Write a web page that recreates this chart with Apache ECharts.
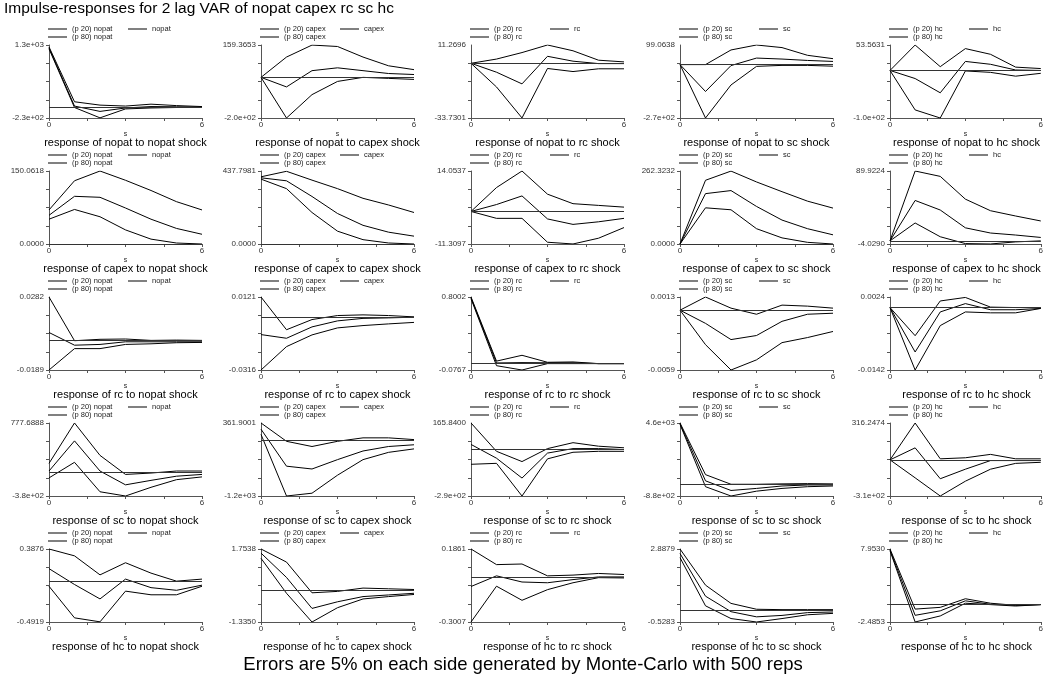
<!DOCTYPE html>
<html>
<head>
<meta charset="utf-8">
<script src="https://cdn.jsdelivr.net/npm/echarts@6/dist/echarts.min.js"></script>
<style>
  html, body { margin: 0; padding: 0; background: #fff; }
  #chart { width: 1046px; height: 683px; }
</style>
</head>
<body>
<div id="chart"></div>
<script>
// steps of the impulse response
const steps = [0, 1, 2, 3, 4, 5, 6];
const vars = ['nopat', 'capex', 'rc', 'sc', 'hc'];

// y axis labels (top / bottom) for each response row, one per shock column
const topLabels = [
    ['1.3e+03', '159.3653', '11.2696', '99.0638', '53.5631'],
    ['150.0618', '437.7981', '14.0537', '262.3232', '89.9224'],
    ['0.0282', '0.0121', '0.8002', '0.0013', '0.0024'],
    ['777.6888', '361.9001', '165.8400', '4.6e+03', '316.2474'],
    ['0.3876', '1.7538', '0.1861', '2.8879', '7.9530']
];
const bottomLabels = [
    ['-2.3e+02', '-2.0e+02', '-33.7301', '-2.7e+02', '-1.0e+02'],
    ['0.0000', '0.0000', '-11.3097', '0.0000', '-4.0290'],
    ['-0.0189', '-0.0316', '-0.0767', '-0.0059', '-0.0142'],
    ['-3.8e+02', '-1.2e+03', '-2.9e+02', '-8.8e+02', '-3.1e+02'],
    ['-0.4919', '-1.3350', '-0.3007', '-0.5283', '-2.4853']
];

// response of nopat (shock nopat, capex, rc, sc, hc)
const p20Nopat = [
    [1220, -10, -227, -40, -20, -10, -10],
    [0, -200, -85, -20, 0, -5, -10],
    [0, -14.6, -33.7, -3.2, -5.1, -3.4, -3.4],
    [0, -270, -103, -9, -4, -4, -8],
    [0, -83, -100, -1, -4, -12, -6]
];
const estNopat = [
    [1240, 20, -92, -20, 10, 5, 0],
    [0, -47, 33, 47, 33, 19, 14],
    [0, -5.5, -12.7, 4.3, 1.3, -0.2, -0.2],
    [0, -136, -5, 33, 28, 21, 16],
    [0, -17, -47, 19, 13, 1, 0]
];
const p80Nopat = [
    [1260, 110, 40, 20, 60, 30, 10],
    [0, 100, 159, 152, 100, 57, 38],
    [0, 2.6, 6.6, 11.27, 7.7, 1.9, 0.85],
    [0, 0, 74, 99, 86, 47, 30],
    [0, 53.5, 8, 46, 34, 7, 4]
];

// response of capex
const p20Capex = [
    [51, 71, 56, 29, 10, 2, 0],
    [389, 332, 189, 77, 26, 6, 0],
    [0, -2.4, -2.4, -10.7, -11.3, -9.3, -5.6],
    [0, 130, 123, 55, 22, 6, 0],
    [0, 23, 5.3, -3.5, -4, -1.3, 0]
];
const estCapex = [
    [59, 98, 96, 74, 51, 32, 20],
    [397, 379, 285, 183, 112, 71, 47],
    [0, 2.4, 5.4, -2.6, -4.5, -3.6, -2.4],
    [0, 181, 192, 135, 86, 55, 33],
    [0, 52, 39.7, 16.8, 10.1, 7.5, 4.4]
];
const p80Capex = [
    [70, 130, 150, 131, 110, 87, 70],
    [403, 436, 383, 332, 274, 234, 189],
    [0, 8.3, 14.05, 6, 2.7, 2.1, 1.5],
    [0, 229, 262, 223, 188, 154, 129],
    [0, 89.9, 83, 53.7, 38.8, 32, 25.6]
];

// response of rc
const p20Rc = [
    [-0.0189, -0.0051, -0.0051, -0.0024, -0.002, -0.0013, -0.0011],
    [-0.0316, -0.0176, -0.0106, -0.0064, -0.005, -0.004, -0.0031],
    [0.78, -0.025, -0.0767, 0, 0, 0, 0],
    [0, -0.0034, -0.0059, -0.0049, -0.0032, -0.0027, -0.0021],
    [0, -0.0142, -0.0041, -0.001, -0.0012, -0.0012, -0.0002]
];
const estRc = [
    [0.0053, -0.0029, -0.0024, -0.0007, -0.0007, -0.0007, -0.0007],
    [-0.0104, -0.0126, -0.0058, -0.0022, -0.0007, -0.0004, 0],
    [0.79, 0.008, 0.012, 0.01, 0.01, 0, 0],
    [0, -0.0013, -0.0029, -0.0025, -0.0011, -0.0004, -0.0003],
    [0, -0.0101, -0.001, 0.0009, -0.0005, -0.0005, -0.0002]
];
const p80Rc = [
    [0.0282, 0, 0.0009, 0.0011, 0.0002, 0.0004, 0.0002],
    [0.0121, -0.0075, -0.0014, 0.001, 0.0014, 0.001, 0.0002],
    [0.80, 0.03, 0.1, 0.016, 0.02, 0, 0],
    [0, 0.0013, 0.0002, -0.0004, 0.0005, 0.0004, 0.0002],
    [0, -0.0064, 0.0015, 0.0023, 0.0001, 0, 0]
];

// response of sc
const p20Sc = [
    [-93, 154, -313, -380, -242, -121, -77],
    [118, -1200, -1140, -755, -422, -266, -192],
    [-92, -86, -290, -58, -17, -11, -11],
    [4500, -181, -880, -517, -310, -181, -129],
    [0, -154, -310, -183, -80, -30, -21]
];
const estSc = [
    [16, 494, 16, -203, -132, -66, -38],
    [229, -562, -622, -422, -237, -141, -104],
    [32, -54, -178, -22, 6, 6, 0],
    [4550, 258, -465, -310, -129, -52, -52],
    [0, 103, -162, -80, -6, -6, -6]
];
const p80Sc = [
    [137, 778, 264, -38, -16, 16, 16],
    [362, -30, -141, -30, 44, 44, 7],
    [166, -11, -75, 6, 43, 21, 11],
    [4600, 724, 0, 0, 30, 50, 30],
    [0, 316, 9, 18, 47, 9, 9]
];

// response of hc
const p20Hc = [
    [-0.061, -0.442, -0.49, -0.12, -0.164, -0.164, -0.061],
    [1.36, -0.12, -1.335, -0.73, -0.36, -0.26, -0.17],
    [-0.3007, -0.062, -0.156, -0.085, -0.039, -0.005, -0.007],
    [2.485, 0.229, -0.367, -0.528, -0.367, -0.19, -0.125],
    [7.7, -2.485, -1.62, 0.2, 0, -0.2, 0]
];
const estHc = [
    [0.151, -0.04, -0.214, 0.025, -0.078, -0.11, -0.048],
    [1.58, 0.55, -0.76, -0.48, -0.26, -0.19, -0.12],
    [-0.064, 0.007, -0.034, -0.039, -0.018, 0, 0],
    [2.678, 0.68, -0.045, -0.287, -0.22, -0.09, -0.06],
    [7.8, -1.53, -0.89, 0.54, 0.05, -0.05, 0]
];
const p80Hc = [
    [0.3876, 0.305, 0.076, 0.222, 0.097, 0, 0.025],
    [1.754, 1.2, -0.1, -0.04, 0.1, 0.07, 0.04],
    [0.186, 0.082, 0.086, 0.007, 0.012, 0.023, 0.016],
    [2.888, 1.196, 0.342, 0.068, 0.05, 0.05, 0.05],
    [7.953, -0.64, -0.39, 0.84, 0.2, -0.1, 0]
];

const p20 = [p20Nopat, p20Capex, p20Rc, p20Sc, p20Hc];
const est = [estNopat, estCapex, estRc, estSc, estHc];
const p80 = [p80Nopat, p80Capex, p80Rc, p80Sc, p80Hc];

// layout
const font = 'Liberation Sans, Arial, Helvetica, sans-serif';
const colLeft = [49, 261, 471, 680, 890];
const rowTop = [45, 171, 297, 423, 549];
const gridW = 153;
const gridH = 73;

const chart = echarts.init(document.getElementById('chart'), null, { renderer: 'canvas' });

const grids = [], xAxes = [], yAxes = [], series = [], legends = [];
const titles = [
    {
        text: 'Impulse-responses for 2 lag VAR of nopat capex rc sc hc',
        left: 4, top: 1, padding: 0,
        textStyle: { fontFamily: font, fontSize: 15.5, fontWeight: 'normal', color: '#000' }
    },
    {
        text: 'Errors are 5% on each side generated by Monte-Carlo with 500 reps',
        left: 'center', top: 655, padding: 0,
        textStyle: { fontFamily: font, fontSize: 18.5, fontWeight: 'normal', color: '#000' }
    }
];

const line = (name, idx, values) => ({
    type: 'line',
    name: name,
    xAxisIndex: idx,
    yAxisIndex: idx,
    data: steps.map((t, k) => [t, values[k]]),
    showSymbol: false,
    symbol: 'none',
    silent: true,
    animation: false,
    lineStyle: { color: '#000', width: 1 },
    itemStyle: { color: '#000' }
});

for (let r = 0; r < 5; r++) {
    for (let c = 0; c < 5; c++) {
        const idx = r * 5 + c;
        const yMax = parseFloat(topLabels[r][c]);
        const yMin = parseFloat(bottomLabels[r][c]);
        const step = (yMax - yMin) / 4;

        grids.push({ left: colLeft[c], top: rowTop[r], width: gridW, height: gridH });

        xAxes.push({
            type: 'value', gridIndex: idx, min: 0, max: 6, interval: 1.5,
            name: 's', nameLocation: 'middle', nameGap: 13,
            nameTextStyle: { fontFamily: font, fontSize: 7, color: '#222' },
            axisLine: { show: true, onZero: false, lineStyle: { color: '#555', width: 1 } },
            axisTick: { show: true, length: 3, lineStyle: { color: '#555' } },
            axisLabel: {
                fontFamily: font, fontSize: 8, color: '#333', margin: 3,
                formatter: v => (v === 0 || v === 6) ? String(v) : ''
            },
            splitLine: { show: false }
        });

        yAxes.push({
            type: 'value', gridIndex: idx, min: yMin, max: yMax,
            axisLine: { show: true, onZero: false, lineStyle: { color: '#555', width: 1 } },
            axisTick: {
                show: true, length: 3, lineStyle: { color: '#555' },
                customValues: [0, 1, 2, 3, 4].map(k => yMin + k * step)
            },
            axisLabel: {
                show: true, fontFamily: font, fontSize: 8, color: '#333', margin: 5,
                customValues: [yMin, yMax],
                formatter: v => Math.abs(v - yMax) < Math.abs(v - yMin) ? topLabels[r][c] : bottomLabels[r][c]
            },
            splitLine: { show: false }
        });

        const nLow = '(p 20) ' + vars[c];
        const nEst = vars[c];
        const nHigh = '(p 80) ' + vars[c];

        series.push(line(nLow, idx, p20[r][c]));
        const mid = line(nEst, idx, est[r][c]);
        mid.markLine = {
            silent: true, symbol: 'none', animation: false,
            label: { show: false },
            lineStyle: { color: '#333', width: 1, type: 'solid' },
            data: [{ yAxis: 0 }]
        };
        series.push(mid);
        series.push(line(nHigh, idx, p80[r][c]));

        const legendBase = {
            top: rowTop[r] - 20, orient: 'vertical', padding: 0, itemGap: 0,
            itemWidth: 19, itemHeight: 1, icon: 'rect', selectedMode: false,
            textStyle: { fontFamily: font, fontSize: 7.5, lineHeight: 7, color: '#222' }
        };
        legends.push(Object.assign({}, legendBase, { left: colLeft[c] - 1, data: [nLow, nHigh] }));
        legends.push(Object.assign({}, legendBase, { left: colLeft[c] + 79, data: [nEst] }));

        titles.push({
            text: 'response of ' + vars[r] + ' to ' + vars[c] + ' shock',
            left: colLeft[c] + gridW / 2, top: rowTop[r] + gridH + 19,
            textAlign: 'center', padding: 0,
            textStyle: { fontFamily: font, fontSize: 11, fontWeight: 'normal', color: '#000' }
        });
    }
}

chart.setOption({
    backgroundColor: '#fff',
    animation: false,
    title: titles,
    legend: legends,
    grid: grids,
    xAxis: xAxes,
    yAxis: yAxes,
    series: series
});
</script>
</body>
</html>
